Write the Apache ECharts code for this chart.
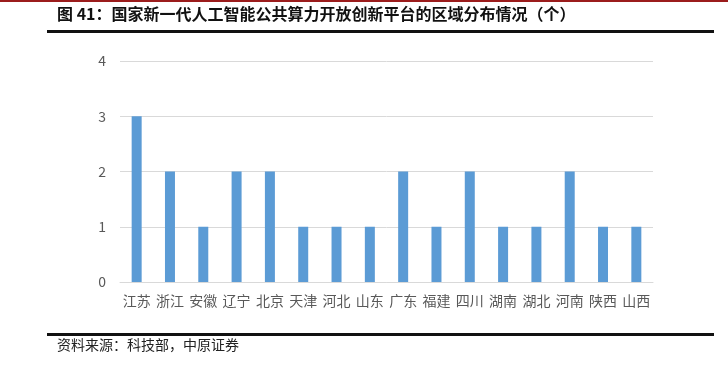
<!DOCTYPE html>
<html>
<head>
<meta charset="utf-8">
<script src="https://cdn.jsdelivr.net/npm/echarts@6/dist/echarts.min.js"></script>
<style>
  html, body { margin: 0; padding: 0; background: #fff; }
  #chart { width: 728px; height: 366px; }
</style>
</head>
<body>
<div id="chart"></div>
<script>
// 区域分布（个）
var provinces = ['江苏', '浙江', '安徽', '辽宁', '北京', '天津', '河北', '山东', '广东', '福建', '四川', '湖南', '湖北', '河南', '陕西', '山西']
var counts = [3, 2, 1, 2, 2, 1, 1, 1, 2, 1, 2, 1, 1, 2, 1, 1]
var yTicks = [0, 1, 2, 3, 4]

var myChart = echarts.init(document.getElementById('chart'))

var option = {
  animation: false,
  textStyle: { fontFamily: 'Noto Sans CJK SC' },
  grid: {
    left: 120,
    right: 75,
    top: 61,
    bottom: 84,
    containLabel: false
  },
  graphic: [
    // 顶部红线
    { type: 'rect', shape: { x: 0, y: 0, width: 728, height: 2 }, style: { fill: '#9b1c1c' } },
    // 标题
    {
      type: 'text', left: 57, top: 6,
      style: {
        text: '图 41：国家新一代人工智能公共算力开放创新平台的区域分布情况（个）',
        font: 'bold 16px "Noto Sans CJK SC"',
        fill: '#111'
      }
    },
    { type: 'rect', shape: { x: 47, y: 30, width: 667, height: 3 }, style: { fill: '#111' } },
    { type: 'rect', shape: { x: 47, y: 333, width: 667, height: 3 }, style: { fill: '#111' } },
    {
      type: 'text', left: 57, top: 338,
      style: {
        text: '资料来源：科技部，中原证券',
        font: '14px "Noto Sans CJK SC"',
        fill: '#222'
      }
    }
  ],
  xAxis: {
    type: 'category',
    data: provinces,
    axisLine: { lineStyle: { color: '#d9d9d9' } },
    axisTick: { show: false },
    axisLabel: { color: '#595959', fontSize: 14, margin: 12, interval: 0 }
  },
  yAxis: {
    type: 'value',
    min: yTicks[0],
    max: yTicks[yTicks.length - 1],
    interval: 1,
    axisLine: { show: false },
    axisTick: { show: false },
    axisLabel: { color: '#595959', fontSize: 14, margin: 14 },
    splitLine: { lineStyle: { color: '#d9d9d9' } }
  },
  series: [{
    type: 'bar',
    data: counts,
    barWidth: 10,
    itemStyle: { color: '#5b9bd5' }
  }]
}
myChart.setOption(option)
</script>
</body>
</html>
